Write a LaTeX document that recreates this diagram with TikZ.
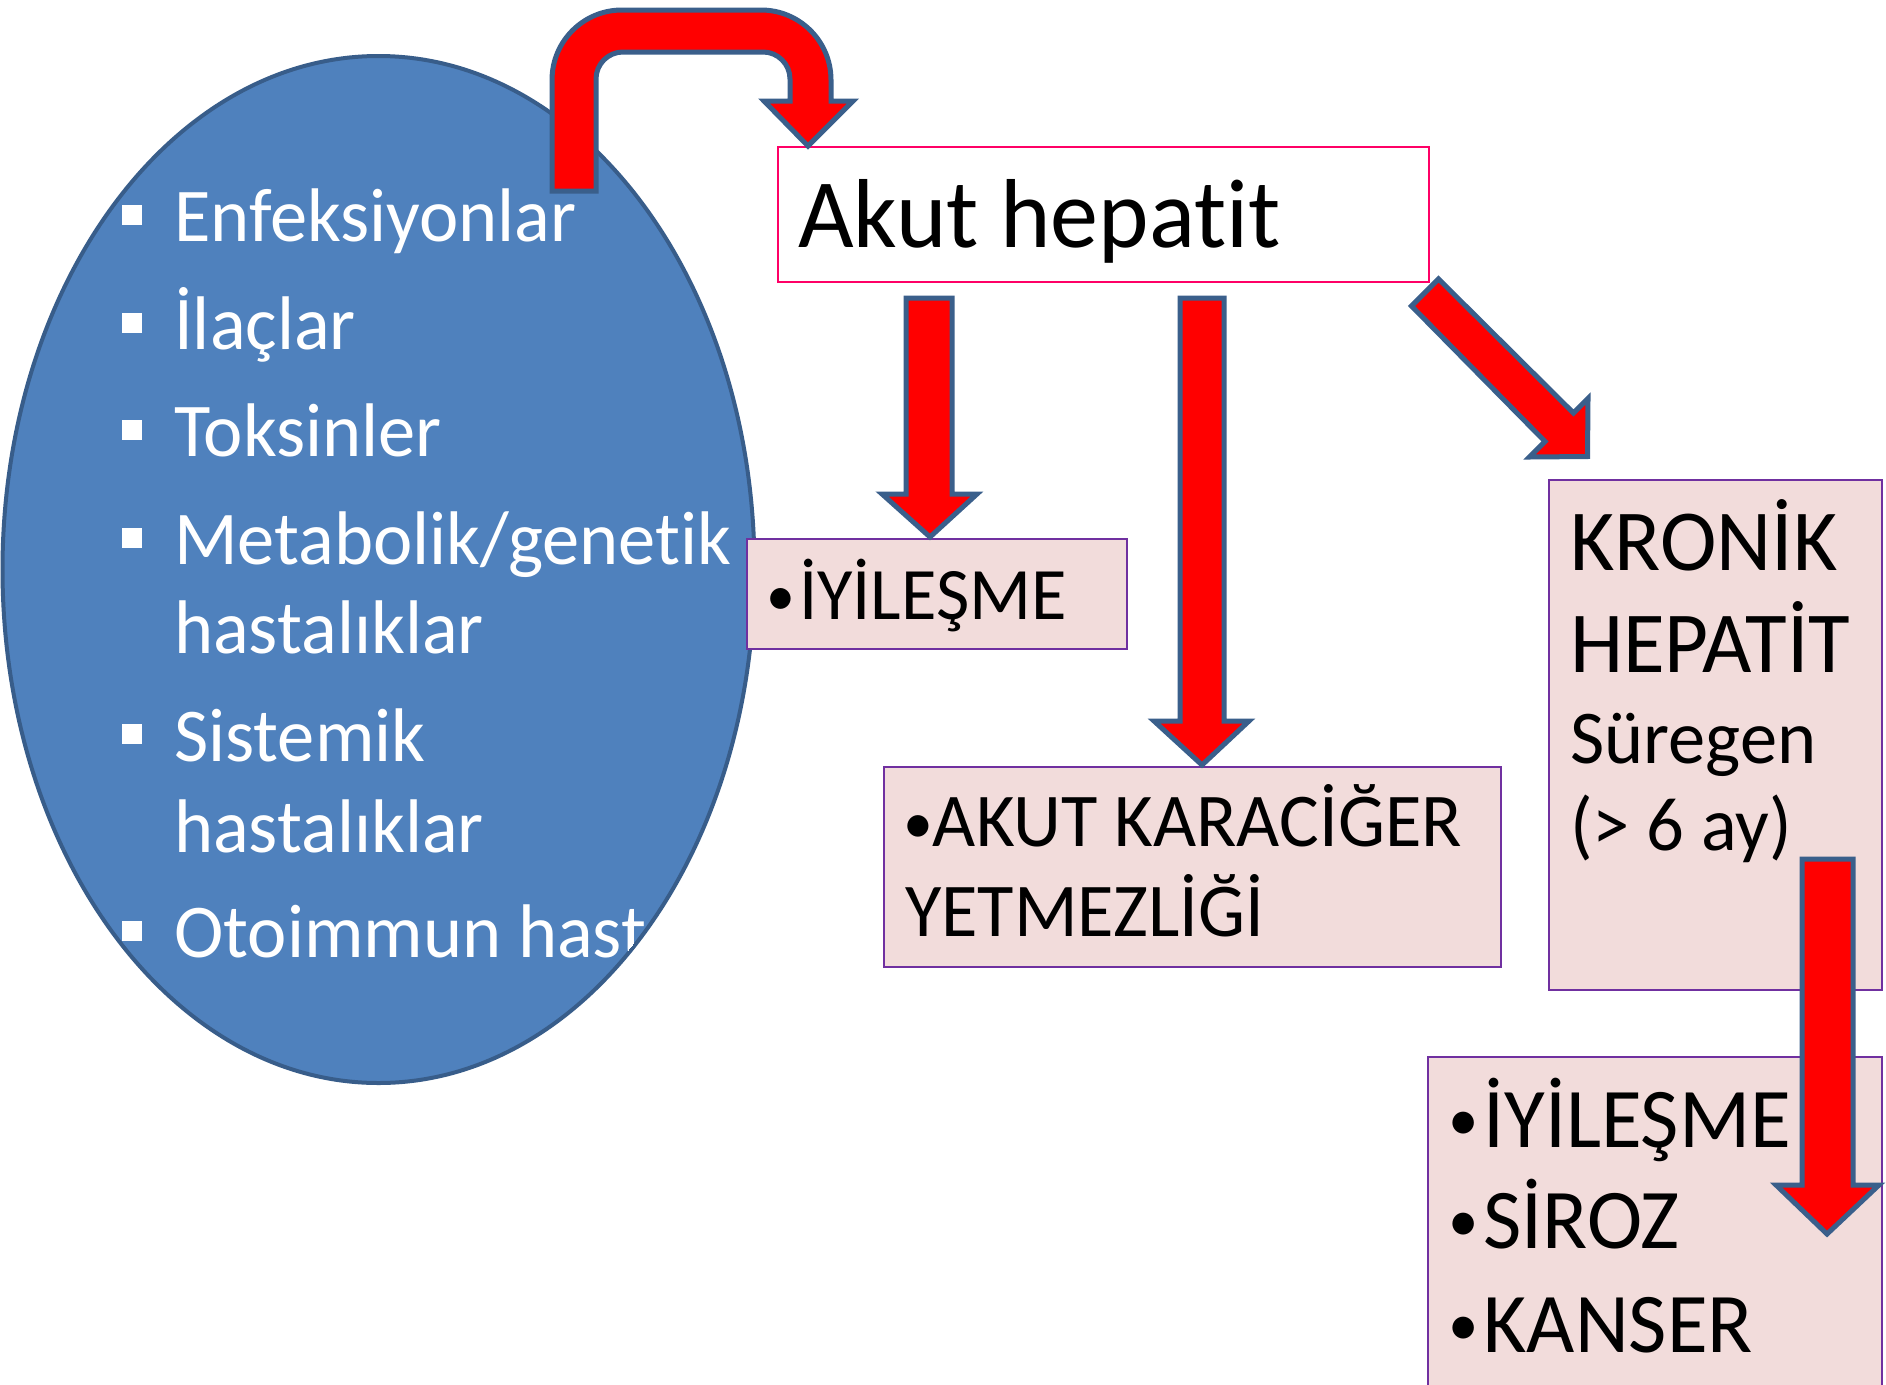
\documentclass[tikz,border=0pt]{standalone}
\usepackage{fontspec}
\setmainfont{Carlito}[FakeStretch=0.98, Ligatures=NoCommon]
\usetikzlibrary{shapes.geometric}
\definecolor{ellfill}{RGB}{79,129,189}
\definecolor{ellline}{RGB}{56,93,138}
\definecolor{arrline}{RGB}{58,95,139}
\definecolor{boxfill}{RGB}{242,220,219}
\definecolor{boxline}{RGB}{112,48,160}
\definecolor{akutline}{RGB}{255,0,102}
\newcommand\mybul[3]{\raisebox{#2pt}{\fontsize{#1}{#1}\selectfont •}\hspace{#3pt}}
\tikzset{
  blockarrow/.style={fill=red, draw=arrline, line width=5pt, line join=miter},
  purplebox/.style={draw=boxline, fill=boxfill, line width=2pt, rectangle, inner sep=0pt},
  pinkbox/.style={draw=akutline, fill=white, line width=2pt, rectangle, inner sep=0pt},
  wtext/.style={anchor=base west, inner sep=0pt, text=white, font=\fontsize{76}{90}\selectfont},
  btext/.style={anchor=base west, inner sep=0pt, text=black},
  sqbullet/.style={fill=white, draw=none, minimum size=20pt, inner sep=0pt, rectangle}
}
\begin{document}
\begin{tikzpicture}[x=1pt,y=-1pt]
\clip (0,0) rectangle (1886,1384);
\fill[white] (0,0) rectangle (1886,1384);

% ellipse
\node[ellipse, draw=ellline, fill=ellfill, line width=4pt, minimum width=752pt, minimum height=1027pt, inner sep=0pt] (ell) at (378.5,569.5) {};
\begin{scope}
  \clip (378.5,569.5) ellipse [x radius=374, y radius=511];
  \node[sqbullet] (b1) at (132,215) {};
  \node[wtext] (l1) at (174,241) {Enfeksiyonlar};
  \node[sqbullet] (b2) at (132,323) {};
  \node[wtext] (l2) at (174,349) {İlaçlar};
  \node[sqbullet] (b3) at (132,430) {};
  \node[wtext] (l3) at (174,456) {Toksinler};
  \node[sqbullet] (b4) at (132,538) {};
  \node[wtext] (l4) at (174,564) {Metabolik/genetik};
  \node[wtext] (l5) at (174,653) {hastalıklar};
  \node[sqbullet] (b6) at (132,734) {};
  \node[wtext] (l6) at (174,761) {Sistemik};
  \node[wtext] (l7) at (174,852) {hastalıklar};
  \node[sqbullet] (b8) at (132,931) {};
  \node[wtext] (l8) at (174,957) {Otoimmun hast};
\end{scope}

% boxes
\node[pinkbox, minimum width=651pt, minimum height=135pt] (akut) at (1103.5,214.5) {};
\node[btext, font=\fontsize{98}{110}\selectfont] (akutt) at (798,247) {Akut hepatit};

\node[purplebox, minimum width=380pt, minimum height=110pt] (iyi) at (937,594) {};
\node[btext, font=\fontsize{74}{88}\selectfont] (iyit) at (766,619) {\mybul{59}{4}{4}İYİLEŞME};

\node[purplebox, minimum width=617pt, minimum height=200pt] (akb) at (1192.5,867) {};
\node[btext, font=\fontsize{76}{90}\selectfont] (akbt1) at (903,846) {\mybul{61}{3}{0}AKUT KARACİĞER};
\node[btext, font=\fontsize{76}{90}\selectfont] (akbt2) at (905,936) {YETMEZLİĞİ};

\node[purplebox, minimum width=333pt, minimum height=510pt] (kron) at (1715.5,735) {};
\node[btext, font=\fontsize{87}{102}\selectfont] (kr1) at (1570,570) {KRONİK};
\node[btext, font=\fontsize{87}{102}\selectfont] (kr2) at (1570,672) {HEPATİT};
\node[btext, font=\fontsize{76}{90}\selectfont] (kr3) at (1570,763) {Süregen};
\node[btext, font=\fontsize{76}{90}\selectfont] (kr4) at (1570,850) {(> 6 ay)};

\node[purplebox, minimum width=454pt, minimum height=360pt] (son) at (1655,1237) {};
\node[btext, font=\fontsize{85}{100}\selectfont] (s1) at (1448,1147) {\mybul{62}{7}{5}İYİLEŞME};
\node[btext, font=\fontsize{85}{100}\selectfont] (s2) at (1448,1248) {\mybul{62}{7}{5}SİROZ};
\node[btext, font=\fontsize{85}{100}\selectfont] (s3) at (1448,1352) {\mybul{62}{7}{5}KANSER};

% curved arrow from ellipse to Akut hepatit
\draw[blockarrow] (552,191) -- (552,80) .. controls (552,41.3) and (583.3,10) .. (622,10)
  -- (761,10) .. controls (799.7,10) and (831,41.3) .. (831,80)
  -- (831,101) -- (853,101) -- (808,146) -- (764,101) -- (790,101)
  -- (790,79) .. controls (790,64.1) and (777.9,52) .. (763,52)
  -- (623,52) .. controls (608.1,52) and (596,64.1) .. (596,79)
  -- (596,191) -- cycle;

% down arrow to İYİLEŞME
\draw[blockarrow] (906,298) -- (952,298) -- (952,494) -- (977,494) -- (930,537) -- (882,494) -- (906,494) -- cycle;
% down arrow to AKUT KARACİĞER
\draw[blockarrow] (1180,298) -- (1224,298) -- (1224,721) -- (1249,721) -- (1202,765) -- (1154,721) -- (1180,721) -- cycle;
% diagonal arrow to KRONİK
\draw[blockarrow] (1411.5,306) -- (1438.5,279) -- (1573.5,413) -- (1588,398.5) -- (1587.5,456.5) -- (1529.5,457) -- (1545,441.5) -- cycle;
% down arrow from KRONİK to outcomes
\draw[blockarrow] (1802,859) -- (1853,859) -- (1853,1185) -- (1879,1185) -- (1827,1234) -- (1776,1185) -- (1802,1185) -- cycle;
\end{tikzpicture}
\end{document}
